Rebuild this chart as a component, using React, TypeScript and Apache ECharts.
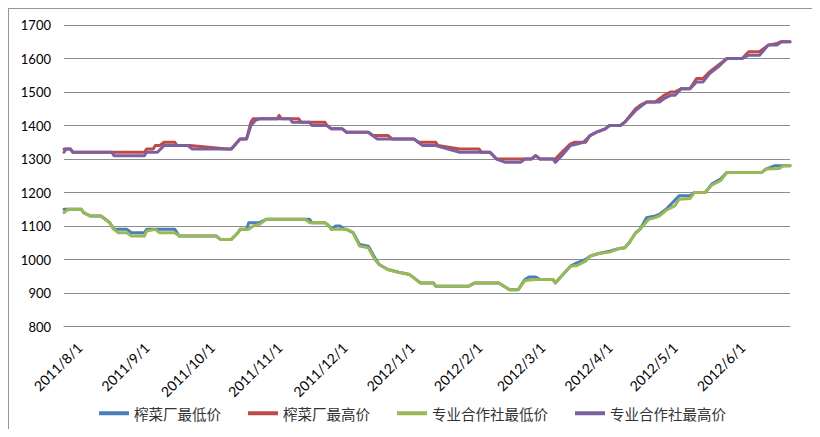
import React, { useEffect, useRef } from "react";
import * as echarts from "echarts";

// Daily category axis: 2011/8/1 .. 2012/6/30, month starts get labels
const AXIS_START = "2011/8/1";
const AXIS_END = "2012/6/30";

const SERIES_NAMES = ["榨菜厂最低价", "榨菜厂最高价", "专业合作社最低价", "专业合作社最高价"];
const SERIES_COLORS = ["#4A7EBB", "#BE4B48", "#98B954", "#7D60A0"];

const Y_MIN = 800;
const Y_MAX = 1700;
const Y_STEP = 100;

// 榨菜厂最低价
const factoryLow: [string, number][] = [
  ["2011/8/1", 1150], ["2011/8/9", 1150], ["2011/8/10", 1140], ["2011/8/13", 1130],
  ["2011/8/18", 1130], ["2011/8/20", 1120], ["2011/8/22", 1110], ["2011/8/24", 1090],
  ["2011/8/30", 1090], ["2011/9/1", 1080], ["2011/9/7", 1080], ["2011/9/8", 1090],
  ["2011/9/21", 1090], ["2011/9/23", 1070], ["2011/10/10", 1070], ["2011/10/12", 1060],
  ["2011/10/17", 1060], ["2011/10/20", 1080], ["2011/10/21", 1090], ["2011/10/24", 1090],
  ["2011/10/25", 1110], ["2011/10/30", 1110], ["2011/11/2", 1120], ["2011/11/22", 1120],
  ["2011/11/23", 1110], ["2011/11/29", 1110], ["2011/12/1", 1100], ["2011/12/2", 1090],
  ["2011/12/4", 1100], ["2011/12/6", 1100], ["2011/12/8", 1090], ["2011/12/9", 1090],
  ["2011/12/12", 1080], ["2011/12/15", 1045], ["2011/12/19", 1040], ["2011/12/22", 1005],
  ["2011/12/24", 985], ["2011/12/28", 970], ["2012/1/2", 962], ["2012/1/7", 955],
  ["2012/1/9", 945], ["2012/1/12", 930], ["2012/1/18", 930], ["2012/1/19", 920],
  ["2012/2/3", 920], ["2012/2/6", 930], ["2012/2/17", 930], ["2012/2/22", 910],
  ["2012/2/26", 910], ["2012/2/29", 940], ["2012/3/2", 948], ["2012/3/5", 948],
  ["2012/3/7", 940], ["2012/3/13", 940], ["2012/3/14", 930], ["2012/3/21", 980],
  ["2012/3/24", 990], ["2012/3/28", 1000], ["2012/3/30", 1010], ["2012/4/3", 1018],
  ["2012/4/8", 1025], ["2012/4/12", 1032], ["2012/4/15", 1035], ["2012/4/17", 1050],
  ["2012/4/20", 1080], ["2012/4/22", 1090], ["2012/4/25", 1125], ["2012/4/29", 1130],
  ["2012/5/1", 1135], ["2012/5/4", 1150], ["2012/5/7", 1170], ["2012/5/10", 1190],
  ["2012/5/15", 1190], ["2012/5/17", 1200], ["2012/5/22", 1200], ["2012/5/25", 1225],
  ["2012/5/29", 1240], ["2012/6/1", 1260], ["2012/6/17", 1260], ["2012/6/19", 1270],
  ["2012/6/23", 1280], ["2012/6/30", 1280],
];

// 榨菜厂最高价
const factoryHigh: [string, number][] = [
  ["2011/8/1", 1330], ["2011/8/4", 1330], ["2011/8/5", 1320], ["2011/9/7", 1320],
  ["2011/9/8", 1330], ["2011/9/11", 1330], ["2011/9/12", 1340], ["2011/9/14", 1340],
  ["2011/9/16", 1350], ["2011/9/21", 1350], ["2011/9/22", 1340], ["2011/9/28", 1340],
  ["2011/10/15", 1330], ["2011/10/17", 1330], ["2011/10/21", 1360], ["2011/10/24", 1360],
  ["2011/10/26", 1410], ["2011/10/27", 1420], ["2011/11/7", 1420], ["2011/11/8", 1430],
  ["2011/11/9", 1420], ["2011/11/17", 1420], ["2011/11/18", 1410], ["2011/11/29", 1410],
  ["2011/11/30", 1400], ["2011/12/2", 1390], ["2011/12/7", 1390], ["2011/12/9", 1380],
  ["2011/12/19", 1380], ["2011/12/21", 1370], ["2011/12/28", 1370], ["2011/12/30", 1360],
  ["2012/1/9", 1360], ["2012/1/11", 1350], ["2012/1/19", 1350], ["2012/1/20", 1340],
  ["2012/1/30", 1330], ["2012/2/8", 1330], ["2012/2/9", 1320], ["2012/2/13", 1320],
  ["2012/2/16", 1300], ["2012/2/27", 1300], ["2012/2/29", 1300], ["2012/3/3", 1300],
  ["2012/3/5", 1310], ["2012/3/7", 1300], ["2012/3/14", 1300], ["2012/3/17", 1320],
  ["2012/3/21", 1345], ["2012/3/23", 1350], ["2012/3/28", 1350], ["2012/3/30", 1370],
  ["2012/4/2", 1380], ["2012/4/6", 1390], ["2012/4/8", 1400], ["2012/4/13", 1400],
  ["2012/4/15", 1410], ["2012/4/20", 1450], ["2012/4/22", 1460], ["2012/4/25", 1470],
  ["2012/4/29", 1470], ["2012/5/1", 1480], ["2012/5/3", 1490], ["2012/5/6", 1500],
  ["2012/5/8", 1500], ["2012/5/11", 1510], ["2012/5/15", 1510], ["2012/5/18", 1540],
  ["2012/5/21", 1540], ["2012/5/24", 1560], ["2012/5/28", 1580], ["2012/6/1", 1600],
  ["2012/6/8", 1600], ["2012/6/11", 1620], ["2012/6/16", 1620], ["2012/6/20", 1640],
  ["2012/6/24", 1645], ["2012/6/26", 1650], ["2012/6/30", 1650],
];

// 专业合作社最低价
const coopLow: [string, number][] = [
  ["2011/8/1", 1140], ["2011/8/3", 1150], ["2011/8/9", 1150], ["2011/8/10", 1140],
  ["2011/8/13", 1130], ["2011/8/18", 1130], ["2011/8/20", 1120], ["2011/8/22", 1110],
  ["2011/8/24", 1090], ["2011/8/26", 1080], ["2011/8/30", 1080], ["2011/9/1", 1070],
  ["2011/9/7", 1070], ["2011/9/8", 1085], ["2011/9/12", 1090], ["2011/9/14", 1080],
  ["2011/9/21", 1080], ["2011/9/23", 1070], ["2011/10/10", 1070], ["2011/10/12", 1060],
  ["2011/10/17", 1060], ["2011/10/20", 1080], ["2011/10/21", 1090], ["2011/10/25", 1090],
  ["2011/10/27", 1100], ["2011/10/30", 1105], ["2011/11/2", 1120], ["2011/11/20", 1120],
  ["2011/11/22", 1110], ["2011/11/29", 1110], ["2011/12/1", 1100], ["2011/12/2", 1090],
  ["2011/12/9", 1090], ["2011/12/12", 1080], ["2011/12/15", 1040], ["2011/12/19", 1035],
  ["2011/12/22", 1000], ["2011/12/24", 985], ["2011/12/28", 970], ["2012/1/2", 962],
  ["2012/1/7", 955], ["2012/1/9", 945], ["2012/1/12", 930], ["2012/1/18", 930],
  ["2012/1/19", 920], ["2012/2/3", 920], ["2012/2/6", 930], ["2012/2/17", 930],
  ["2012/2/22", 910], ["2012/2/26", 910], ["2012/2/29", 937], ["2012/3/5", 940],
  ["2012/3/13", 940], ["2012/3/14", 930], ["2012/3/21", 980], ["2012/3/24", 982],
  ["2012/3/28", 995], ["2012/3/30", 1010], ["2012/4/3", 1018], ["2012/4/8", 1022],
  ["2012/4/12", 1032], ["2012/4/15", 1035], ["2012/4/17", 1050], ["2012/4/20", 1080],
  ["2012/4/22", 1090], ["2012/4/26", 1120], ["2012/4/29", 1125], ["2012/5/1", 1130],
  ["2012/5/4", 1147], ["2012/5/8", 1160], ["2012/5/10", 1180], ["2012/5/15", 1182],
  ["2012/5/17", 1200], ["2012/5/22", 1200], ["2012/5/25", 1222], ["2012/5/29", 1235],
  ["2012/6/1", 1260], ["2012/6/17", 1260], ["2012/6/19", 1270], ["2012/6/25", 1272],
  ["2012/6/27", 1280], ["2012/6/30", 1280],
];

// 专业合作社最高价
const coopHigh: [string, number][] = [
  ["2011/8/1", 1320], ["2011/8/2", 1330], ["2011/8/4", 1330], ["2011/8/5", 1320],
  ["2011/8/23", 1320], ["2011/8/24", 1310], ["2011/9/7", 1310], ["2011/9/8", 1320],
  ["2011/9/13", 1320], ["2011/9/16", 1340], ["2011/9/27", 1340], ["2011/9/29", 1330],
  ["2011/10/17", 1330], ["2011/10/21", 1360], ["2011/10/24", 1360], ["2011/10/26", 1400],
  ["2011/10/28", 1415], ["2011/10/30", 1420], ["2011/11/13", 1420], ["2011/11/14", 1410],
  ["2011/11/22", 1410], ["2011/11/23", 1400], ["2011/11/30", 1400], ["2011/12/2", 1390],
  ["2011/12/7", 1390], ["2011/12/9", 1380], ["2011/12/19", 1380], ["2011/12/21", 1370],
  ["2011/12/23", 1360], ["2012/1/9", 1360], ["2012/1/11", 1350], ["2012/1/13", 1340],
  ["2012/1/19", 1340], ["2012/1/30", 1320], ["2012/2/13", 1320], ["2012/2/16", 1300],
  ["2012/2/20", 1290], ["2012/2/27", 1290], ["2012/2/29", 1300], ["2012/3/3", 1300],
  ["2012/3/5", 1310], ["2012/3/7", 1300], ["2012/3/13", 1300], ["2012/3/14", 1290],
  ["2012/3/17", 1310], ["2012/3/21", 1340], ["2012/3/24", 1345], ["2012/3/27", 1350],
  ["2012/3/30", 1370], ["2012/4/2", 1380], ["2012/4/6", 1390], ["2012/4/8", 1400],
  ["2012/4/13", 1400], ["2012/4/15", 1410], ["2012/4/20", 1445], ["2012/4/22", 1455],
  ["2012/4/25", 1470], ["2012/5/1", 1470], ["2012/5/3", 1480], ["2012/5/6", 1490],
  ["2012/5/8", 1490], ["2012/5/11", 1510], ["2012/5/15", 1510], ["2012/5/18", 1530],
  ["2012/5/21", 1530], ["2012/5/24", 1555], ["2012/5/28", 1575], ["2012/6/1", 1600],
  ["2012/6/8", 1600], ["2012/6/11", 1610], ["2012/6/16", 1610], ["2012/6/20", 1640],
  ["2012/6/24", 1640], ["2012/6/26", 1650], ["2012/6/30", 1650],
];

const SERIES_DATA = [factoryLow, factoryHigh, coopLow, coopHigh];

function buildDays(start: string, end: string): string[] {
  const [y0, m0, d0] = start.split("/").map(Number);
  const [y1, m1, d1] = end.split("/").map(Number);
  const cur = new Date(y0, m0 - 1, d0, 12);
  const last = new Date(y1, m1 - 1, d1, 12);
  const out: string[] = [];
  while (cur <= last) {
    out.push(`${cur.getFullYear()}/${cur.getMonth() + 1}/${cur.getDate()}`);
    cur.setDate(cur.getDate() + 1);
  }
  return out;
}

const LABEL_FONT = "Lato, 'Noto Sans', sans-serif";
const CJK_FONT = "'Noto Sans CJK SC', 'Noto Sans', sans-serif";
const GRID_GRAY = "#8c8c8c";

export default function App() {
  const ref = useRef<HTMLDivElement>(null);

  useEffect(() => {
    if (!ref.current) return;
    const chart = echarts.init(ref.current, undefined, { renderer: "svg" });
    const days = buildDays(AXIS_START, AXIS_END);
    const dayIndex = new Map(days.map((d, i) => [d, i]));

    const series = SERIES_NAMES.map((name, i) => ({
      name,
      type: "line" as const,
      showSymbol: false,
      symbol: "none",
      color: SERIES_COLORS[i],
      lineStyle: { width: 3, color: SERIES_COLORS[i], cap: "round", join: "round" },
      data: SERIES_DATA[i].map(([d, v]) => [dayIndex.get(d), v]),
      z: 2 + i,
    }));

    chart.setOption({
      animation: false,
      grid: { left: 55, top: 16, width: 726, height: 301.5, containLabel: false },
      legend: {
        left: 90,
        top: 397,
        padding: 0,
        itemWidth: 30,
        itemHeight: 4,
        itemGap: 27,
        icon: "rect",
        textStyle: { fontFamily: CJK_FONT, fontSize: 14.5, color: "#333" },
        data: SERIES_NAMES,
      },
      xAxis: {
        type: "category",
        data: days,
        boundaryGap: false,
        axisTick: { show: false },
        axisLine: { show: true, lineStyle: { color: GRID_GRAY, width: 1 } },
        splitLine: { show: false },
        axisLabel: {
          rotate: 45,
          interval: (_i: number, v: string) => v.endsWith("/1"),
          verticalAlign: "top",
          padding: [15, 0, 0, 0],
          margin: 3,
          fontFamily: LABEL_FONT,
          fontSize: 14,
          color: "#000",
        },
      },
      yAxis: {
        type: "value",
        min: Y_MIN,
        max: Y_MAX,
        interval: Y_STEP,
        axisLine: { show: false },
        axisTick: { show: false },
        splitLine: { show: true, lineStyle: { color: GRID_GRAY, width: 1 } },
        axisLabel: {
          margin: 13,
          formatter: (v: number) => String(v),
          fontFamily: LABEL_FONT,
          fontSize: 13,
          color: "#000",
        },
      },
      series,
    });

    return () => chart.dispose();
  }, []);

  return (
    <div
      style={{
        width: 805,
        height: 420,
        border: "1px solid #969696",
        borderBottom: "none",
        background: "#fff",
      }}
    >
      <div ref={ref} style={{ width: 805, height: 420 }} />
    </div>
  );
}
